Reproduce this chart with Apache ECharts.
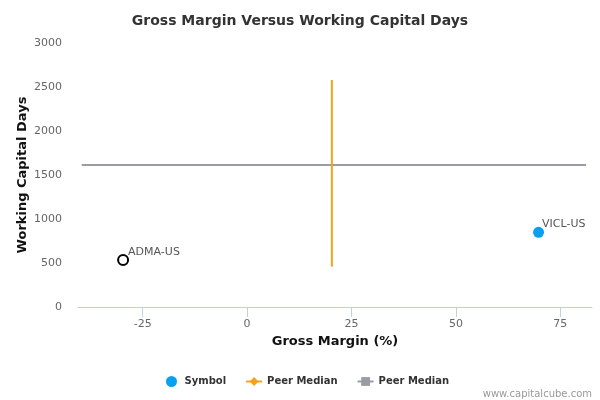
<!DOCTYPE html>
<html>
<head>
<meta charset="utf-8">
<script src="https://cdn.jsdelivr.net/npm/echarts@6/dist/echarts.min.js"></script>
<style>
    html, body { margin: 0; padding: 0; background: #fff; }
    #chart_main { width: 600px; height: 400px; }
</style>
</head>
<body>
<div id="chart_main"></div>
<script>
// data
var symbolNames = ['VICL-US'];
var symbolX = [69.8];
var symbolY = [849];

var subjectNames = ['ADMA-US'];
var subjectX = [-29.7];
var subjectY = [534];

// vertical peer median (gross margin)
var peerMarginX = [20.3, 20.3];
var peerMarginY = [458, 2580];

// horizontal peer median (working capital days)
var peerDaysX = [-39.6, 81.2];
var peerDaysY = [1614, 1614];

var xTicks = [-25, 0, 25, 50, 75];
var yTicks = [0, 500, 1000, 1500, 2000, 2500, 3000];

function pairs(xs, ys, names) {
    return xs.map(function (x, i) {
        var d = { value: [x, ys[i]] };
        if (names) d.name = names[i];
        return d;
    });
}

var font = 'DejaVu Sans';
var myChart = echarts.init(document.getElementById('chart_main'));

var option = {
    animation: false,
    textStyle: { fontFamily: font },
    title: {
        text: 'Gross Margin Versus Working Capital Days',
        left: 'center',
        top: 9,
        textStyle: { fontFamily: font, fontSize: 14, fontWeight: 'bold', color: '#333' }
    },
    legend: {
        data: ['Symbol', 'Peer Median', 'Peer Median '],
        left: 161,
        top: 371,
        itemWidth: 16,
        itemHeight: 11,
        itemGap: 19,
        textStyle: { fontFamily: font, fontSize: 10, fontWeight: 'bold', color: '#333' }
    },
    grid: { left: 78, right: 8, top: 43, bottom: 93 },
    xAxis: {
        type: 'value',
        min: -40.5,
        max: 82.6,
        name: 'Gross Margin (%)',
        nameLocation: 'middle',
        nameGap: 27,
        nameTextStyle: { fontFamily: font, fontSize: 13, fontWeight: 'bold', color: '#111' },
        axisLine: { show: true, lineStyle: { color: '#c0d0e0', width: 1 } },
        axisTick: { show: true, length: 10, customValues: xTicks, lineStyle: { color: '#c0d0e0' } },
        axisLabel: { customValues: xTicks, margin: 12, fontSize: 11, color: '#666', fontFamily: font },
        splitLine: { show: false }
    },
    yAxis: {
        type: 'value',
        min: 0,
        max: 3000,
        interval: 500,
        name: 'Working Capital Days',
        nameLocation: 'middle',
        nameGap: 49,
        nameMoveOverlap: false,
        nameTextStyle: { fontFamily: font, fontSize: 13, fontWeight: 'bold', color: '#111' },
        axisLine: { show: false },
        axisTick: { show: false },
        axisLabel: {
            customValues: yTicks,
            formatter: function (v) { return String(v); },
            margin: 16, fontSize: 11, color: '#666', fontFamily: font
        },
        splitLine: { show: false }
    },
    series: [
        {
            name: 'Symbol',
            type: 'scatter',
            symbol: 'circle',
            symbolSize: 11,
            itemStyle: { color: '#0aa0f0', opacity: 1 },
            data: pairs(symbolX, symbolY, symbolNames),
            label: {
                show: true,
                position: 'right',
                offset: [-7, -8],
                formatter: '{b}',
                fontSize: 11,
                color: '#555',
                fontFamily: font
            },
            z: 5
        },
        {
            name: 'ADMA-US',
            type: 'scatter',
            symbol: 'circle',
            symbolSize: 10,
            itemStyle: { color: '#fff', borderColor: '#000', borderWidth: 2, opacity: 1 },
            data: pairs(subjectX, subjectY, subjectNames),
            label: {
                show: true,
                position: 'right',
                offset: [-6, -8],
                formatter: '{b}',
                fontSize: 11,
                color: '#555',
                fontFamily: font
            },
            z: 5
        },
        {
            name: 'Peer Median',
            type: 'line',
            symbol: 'diamond',
            symbolSize: 9,
            showSymbol: false,
            itemStyle: { color: '#f7a21b' },
            lineStyle: { color: '#f7a21b', width: 2 },
            data: pairs(peerMarginX, peerMarginY),
            z: 3
        },
        {
            name: 'Peer Median ',
            type: 'line',
            symbol: 'rect',
            symbolSize: 9,
            showSymbol: false,
            itemStyle: { color: '#999ca5' },
            lineStyle: { color: '#999ca5', width: 2 },
            data: pairs(peerDaysX, peerDaysY),
            z: 2
        }
    ],
    graphic: [
        {
            type: 'text',
            right: 8,
            top: 389,
            style: { text: 'www.capitalcube.com', fontFamily: font, fontSize: 10, fill: '#999' }
        }
    ]
};

myChart.setOption(option);
</script>
</body>
</html>
